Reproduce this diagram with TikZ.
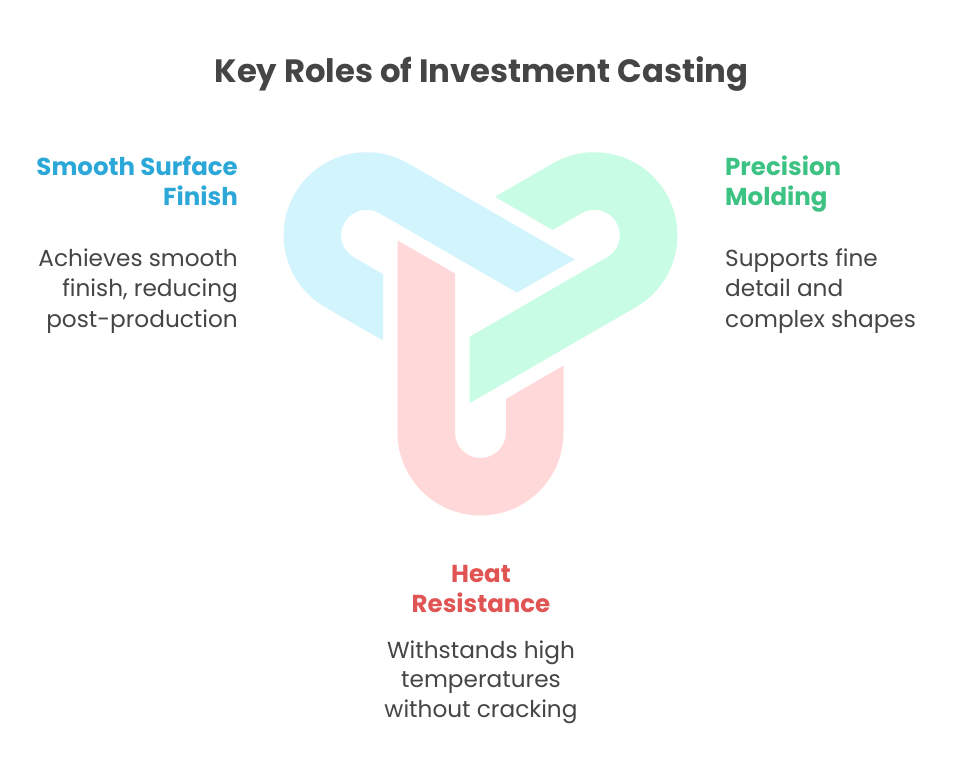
\documentclass[tikz,border=0pt]{standalone}
\usepackage{fontspec}
\setmainfont{Poppins}
\definecolor{bandblue}{HTML}{D2F4FD}
\definecolor{bandgreen}{HTML}{C8FCE4}
\definecolor{bandred}{HTML}{FFD9D9}
\definecolor{headblue}{HTML}{2BA8D8}
\definecolor{headgreen}{HTML}{3CC383}
\definecolor{headred}{HTML}{E05454}
\definecolor{textgray}{HTML}{454545}
\tikzset{
  titletext/.style={font=\bfseries\fontsize{32.3}{40}\selectfont, text=textgray, inner sep=0pt},
  headtext/.style={font=\bfseries\fontsize{24.5}{30}\selectfont, inner sep=0pt},
  bodytext/.style={font=\fontsize{23.2}{30}\selectfont, text=textgray, inner sep=0pt},
}
\begin{document}
\begin{tikzpicture}[x=1pt,y=1pt]
\useasboundingbox (0,0) rectangle (963,-783);
\fill[white] (0,0) rectangle (963,-783);
% interlocking bands around centre C
\coordinate (C) at (480.5,-301);
\begin{scope}[shift={(C)}]
  \fill[bandred] (-83,60.62) -- (-25.5,27.42) -- (-25.5,-131.5)
    arc[start angle=180,end angle=360,radius=25.5] -- (25.5,-97.86) -- (83,-64.67) -- (83,-131.5)
    arc[start angle=0,end angle=-180,radius=83] -- cycle;
\end{scope}
\begin{scope}[shift={(C)},rotate=-120]
  \fill[bandblue] (-83,60.62) -- (-25.5,27.42) -- (-25.5,-131.5)
    arc[start angle=180,end angle=360,radius=25.5] -- (25.5,-97.86) -- (83,-64.67) -- (83,-131.5)
    arc[start angle=0,end angle=-180,radius=83] -- cycle;
\end{scope}
\begin{scope}[shift={(C)},rotate=120]
  \fill[bandgreen] (-83,60.62) -- (-25.5,27.42) -- (-25.5,-131.5)
    arc[start angle=180,end angle=360,radius=25.5] -- (25.5,-97.86) -- (83,-64.67) -- (83,-131.5)
    arc[start angle=0,end angle=-180,radius=83] -- cycle;
\end{scope}
% title
\node[titletext, anchor=base] (title) at (481.5,-83) {Key Roles of Investment Casting};
% left block
\node[headtext, text=headblue, anchor=base east] (l1) at (238,-176) {Smooth Surface};
\node[headtext, text=headblue, anchor=base east] (l2) at (238,-206) {Finish};
\node[bodytext, anchor=base east] (l3) at (238,-267) {Achieves smooth};
\node[bodytext, anchor=base east] (l4) at (238,-297) {finish, reducing};
\node[bodytext, anchor=base east] (l5) at (238,-327) {post-production};
% right block
\node[headtext, text=headgreen, anchor=base west] (r1) at (725,-176) {Precision};
\node[headtext, text=headgreen, anchor=base west] (r2) at (725,-206) {Molding};
\node[bodytext, anchor=base west] (r3) at (725,-267) {Supports fine};
\node[bodytext, anchor=base west] (r4) at (725,-297) {detail and};
\node[bodytext, anchor=base west] (r5) at (725,-327) {complex shapes};
% bottom block
\node[headtext, text=headred, anchor=base] (b1) at (481,-582) {Heat};
\node[headtext, text=headred, anchor=base] (b2) at (481,-612) {Resistance};
\node[bodytext, anchor=base] (b3) at (481,-658) {Withstands high};
\node[bodytext, anchor=base] (b4) at (481,-687.5) {temperatures};
\node[bodytext, anchor=base] (b5) at (481,-717) {without cracking};
\end{tikzpicture}
\end{document}
